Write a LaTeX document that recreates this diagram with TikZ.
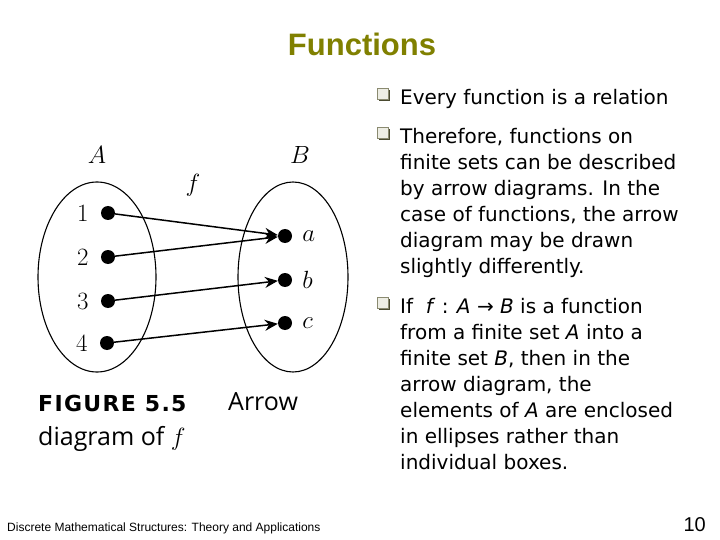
\documentclass[tikz,border=0pt]{standalone}
\usepackage{fontspec}
\usepackage{tikz}
\usetikzlibrary{arrows.meta,positioning,shapes.geometric,shadows}
\newfontfamily\slidefont{DejaVu Sans}
\newfontfamily\titlefont{Liberation Sans}
\newfontfamily\capfont{Open Sans}
\newfontfamily\figfont[LetterSpace=6]{DejaVu Sans}
\definecolor{titleolive}{HTML}{808000}
\definecolor{ink}{HTML}{000000}
\definecolor{bulletfill}{HTML}{EDEDE4}
\definecolor{bulletedge}{HTML}{8A8A70}
\definecolor{bulletshade}{HTML}{4A4A30}
\tikzset{
  setoval/.style={draw=ink,ellipse,line width=1.1pt,inner sep=0pt},
  elemdot/.style={circle,fill=ink,inner sep=0pt,minimum size=14pt},
  elemlabel/.style={font=\fontsize{26}{30}\selectfont,inner sep=0pt},
  maparr/.style={-{Stealth[length=13pt,width=11pt]},line width=1.5pt},
  boxbullet/.style={draw=bulletedge,fill=bulletfill,line width=0.6pt,
                    minimum size=11pt,inner sep=0pt,
                    drop shadow={shadow xshift=1.6pt,shadow yshift=-1.6pt,
                                 fill=bulletshade,opacity=1}},
  slidetext/.style={font=\slidefont\fontsize{20}{26}\selectfont,
                    align=left,anchor=base west,inner sep=0pt}
}

\begin{document}
\begin{tikzpicture}[x=1pt,y=-1pt]
  \fill[white] (0,0) rectangle (720,540);
  \useasboundingbox (0,0) rectangle (720,540);
  % title
  \node[font=\titlefont\bfseries\fontsize{31}{36}\selectfont,text=titleolive,
        anchor=base] (title) at (362,56) {Functions};
  % arrow diagram
  \node[setoval,minimum width=118pt,minimum height=190pt] (setA) at (97,277) {};
  \node[setoval,minimum width=110pt,minimum height=190pt] (setB) at (293,277) {};
  \node[elemlabel] (labA) at (97,155) {$A$};
  \node[elemlabel] (labB) at (300,155) {$B$};
  \node[elemlabel] (labf) at (193,185) {$f$};
  \node[elemdot] (e1) at (108,213) {};
  \node[elemdot] (e2) at (108,257) {};
  \node[elemdot] (e3) at (108,301) {};
  \node[elemdot] (e4) at (107,343) {};
  \node[elemdot] (ea) at (285,236) {};
  \node[elemdot] (eb) at (285,280) {};
  \node[elemdot] (ec) at (285,323) {};
  \node[elemlabel,left=12pt of e1] (n1) {$1$};
  \node[elemlabel,left=12pt of e2] (n2) {$2$};
  \node[elemlabel,left=12pt of e3] (n3) {$3$};
  \node[elemlabel,left=12pt of e4] (n4) {$4$};
  \node[elemlabel,right=10pt of ea] (na) {$a$};
  \node[elemlabel,right=10pt of eb] (nb) {$b$};
  \node[elemlabel,right=10pt of ec] (nc) {$c$};
  \draw[maparr] (e1) -- (ea);
  \draw[maparr] (e2) -- (ea);
  \draw[maparr] (e3) -- (eb);
  \draw[maparr] (e4) -- (ec);
  % caption
  \node[anchor=base west,inner sep=0pt,
        font=\figfont\bfseries\fontsize{22}{26}\selectfont] (figno) at (38,411) {FIGURE 5.5};
  \node[anchor=base west,inner sep=0pt,
        font=\capfont\fontsize{25}{30}\selectfont] (figcap) at (228,410) {Arrow};
  \node[anchor=base west,inner sep=0pt,
        font=\capfont\fontsize{25}{30}\selectfont] (figcapb) at (38,445) {diagram of $f$};
  % bullet points (anchored at the base of the last line)
  \node[boxbullet] (b1) at (383,94) {};
  \node[slidetext] (t1) at (400,105) {Every function is a relation};
  \node[boxbullet] (b2) at (383,133) {};
  \node[slidetext] (t2) at (400,273) {Therefore, functions on\\finite sets can be described\\by arrow diagrams. In the\\case of functions, the arrow\\diagram may be drawn\\slightly differently.};
  \node[boxbullet] (b3) at (383,303) {};
  \node[slidetext] (t3) at (400,469) {If\ \ \textit{f} : \textit{A} → \textit{B} is a function\\from a finite set \textit{A} into a\\finite set \textit{B}, then in the\\arrow diagram, the\\elements of \textit{A} are enclosed\\in ellipses rather than\\individual boxes.};
  % footer
  \node[anchor=base west,inner sep=0pt,font=\titlefont\fontsize{12}{14}\selectfont]
        (foot) at (7,531) {Discrete Mathematical Structures: Theory and Applications};
  \node[anchor=base east,inner sep=0pt,font=\titlefont\fontsize{20}{24}\selectfont]
        (pageno) at (706,531) {10};
\end{tikzpicture}
\end{document}
